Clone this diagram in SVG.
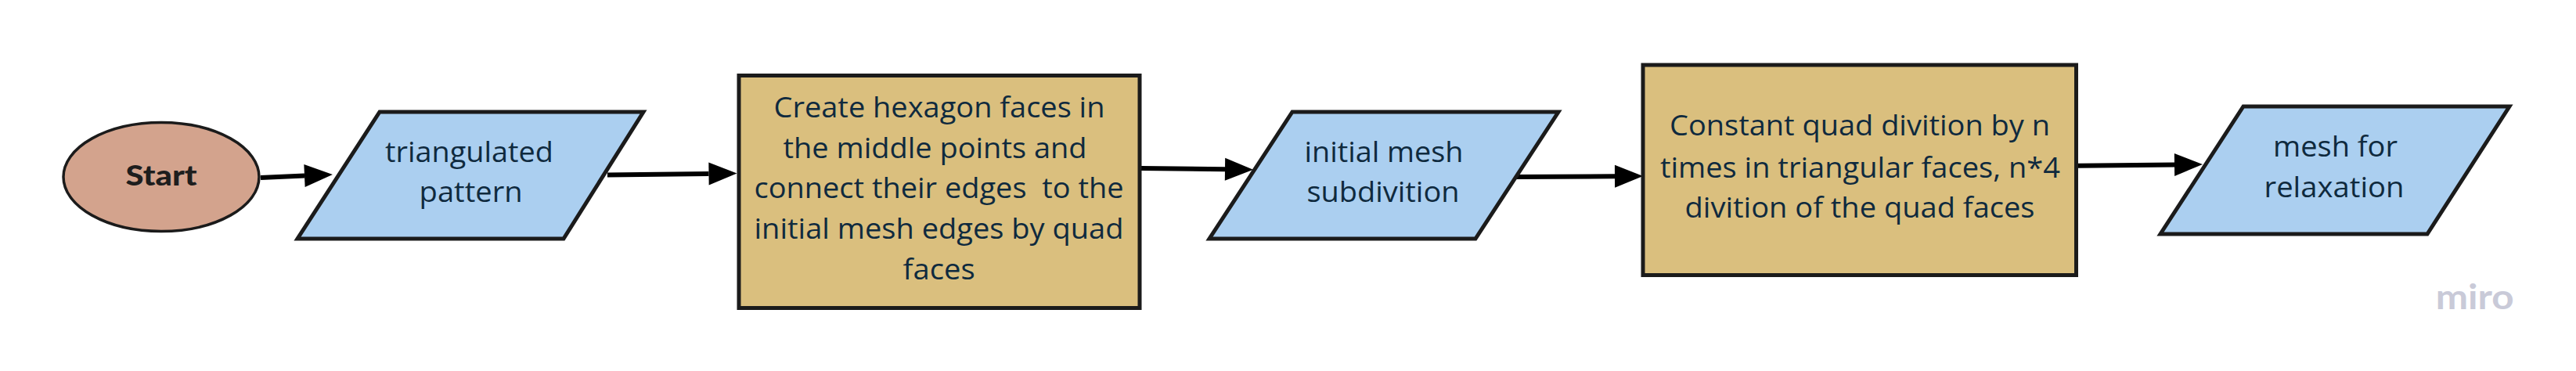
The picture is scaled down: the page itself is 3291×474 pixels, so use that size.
<svg xmlns="http://www.w3.org/2000/svg" width="3291" height="474" viewBox="0 0 3291 474">
<defs>
<style>
.io{fill:#abcff0;stroke:#1b1b1b;stroke-width:5;stroke-linejoin:miter}
.proc{fill:#dabf7e;stroke:#1b1b1b;stroke-width:5}
.t{font-family:"Open Sans","Liberation Sans",sans-serif;font-size:37px;fill:#0f2a3e;text-anchor:middle;white-space:pre}
.conn{fill:none;stroke:#000;stroke-width:6;marker-end:url(#ah)}
</style>
<marker id="ah" markerUnits="userSpaceOnUse" markerWidth="38" markerHeight="30" refX="0" refY="14.5" orient="auto" overflow="visible">
<path d="M0,0 L36,14.5 L0,29 Z" fill="#000"/>
</marker>
</defs>
<rect width="3291" height="474" fill="#ffffff"/>
<g id="connectors">
<path class="conn" d="M333,227 L389,224.5"/>
<path class="conn" d="M776,223.5 L905.5,222"/>
<path class="conn" d="M1458,215 L1565,216.3"/>
<path class="conn" d="M1937,226 L2063,225.2"/>
<path class="conn" d="M2655,211.7 L2778,210.4"/>
</g>
<g id="start">
<ellipse cx="206" cy="226" rx="125" ry="69.5" fill="#d3a38d" stroke="#1b1b1b" stroke-width="3.5"/>
<text x="206" y="236.7" font-family="Lato,'Liberation Sans',sans-serif" font-weight="900" font-size="36" fill="#1e1e1e" text-anchor="middle" textLength="91" lengthAdjust="spacingAndGlyphs">Start</text>
</g>
<g id="triangulated-pattern">
<polygon class="io" points="485,143 822,143 720,305 380,305"/>
<text class="t" x="599.5" y="207.3" textLength="215" lengthAdjust="spacingAndGlyphs">triangulated</text>
<text class="t" x="601.6" y="258.3" textLength="132" lengthAdjust="spacingAndGlyphs">pattern</text>
</g>
<g id="create-hexagon">
<rect class="proc" x="944" y="96.5" width="512" height="297"/>
<text class="t" x="1200" y="150" textLength="423" lengthAdjust="spacingAndGlyphs">Create hexagon faces in</text>
<text class="t" x="1194.5" y="201.7" textLength="388" lengthAdjust="spacingAndGlyphs">the middle points and</text>
<text class="t" x="1199.5" y="253.3" textLength="472" lengthAdjust="spacingAndGlyphs">connect their edges  to the</text>
<text class="t" x="1199.5" y="305" textLength="472" lengthAdjust="spacingAndGlyphs">initial mesh edges by quad</text>
<text class="t" x="1199.6" y="356.7" textLength="92" lengthAdjust="spacingAndGlyphs">faces</text>
</g>
<g id="initial-mesh-subdivition">
<polygon class="io" points="1651,143 1991,143 1885,305 1545,305"/>
<text class="t" x="1768" y="207.3" textLength="203" lengthAdjust="spacingAndGlyphs">initial mesh</text>
<text class="t" x="1767" y="258.3" textLength="195" lengthAdjust="spacingAndGlyphs">subdivition</text>
</g>
<g id="constant-quad-divition">
<rect class="proc" x="2099" y="83" width="553.5" height="268.5"/>
<text class="t" x="2376" y="173.3" textLength="486" lengthAdjust="spacingAndGlyphs">Constant quad divition by n</text>
<text class="t" x="2376.4" y="226.7" textLength="511" lengthAdjust="spacingAndGlyphs">times in triangular faces, n*4</text>
<text class="t" x="2376" y="278.3" textLength="447" lengthAdjust="spacingAndGlyphs">divition of the quad faces</text>
</g>
<g id="mesh-for-relaxation">
<polygon class="io" points="2866,136 3206,136 3101,299 2760,299"/>
<text class="t" x="2983.5" y="200" textLength="159" lengthAdjust="spacingAndGlyphs">mesh for</text>
<text class="t" x="2982" y="251.7" textLength="179" lengthAdjust="spacingAndGlyphs">relaxation</text>
</g>
<text x="3161.7" y="395" font-family="Lato,'Liberation Sans',sans-serif" font-weight="700" font-size="44" fill="#c9cad8" text-anchor="middle" textLength="100" lengthAdjust="spacingAndGlyphs">miro</text>
</svg>
